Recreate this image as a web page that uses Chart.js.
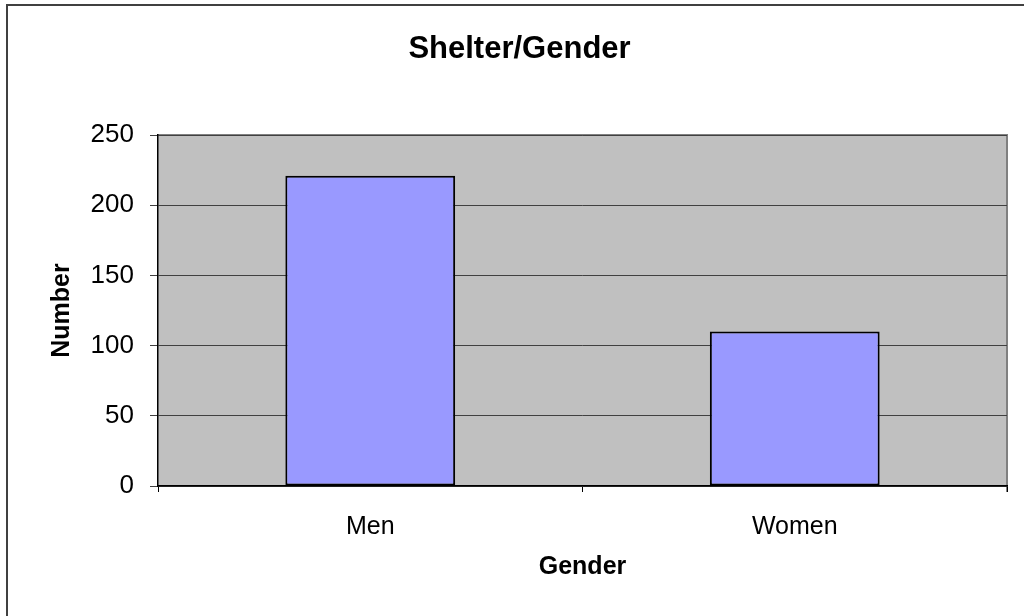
<!DOCTYPE html>
<html lang="en">
<head>
    <meta charset="UTF-8">
    <title>Shelter/Gender</title>
    <script src="https://cdn.jsdelivr.net/npm/chart.js"></script>
    <style>
        html, body { margin: 0; padding: 0; background: #fff; }
        canvas { display: block; }
    </style>
</head>
<body>
    <canvas id="shelterChart" width="1024" height="616"></canvas>

    <script>
        // data
        var categories = ["Men", "Women"];
        var counts = [221, 110];
        var yTicks = [0, 50, 100, 150, 200, 250];

        var font = "'Liberation Sans', Arial, sans-serif";

        // gray plot area + outer frame
        var frame = {
            id: 'frame',
            beforeDraw: function (chart) {
                var c = chart.ctx, a = chart.chartArea;
                c.save();
                c.fillStyle = '#fff';
                c.fillRect(0, 0, chart.width, chart.height);
                c.strokeStyle = '#404040';
                c.lineWidth = 2;
                c.beginPath();
                c.moveTo(7, chart.height);
                c.lineTo(7, 5);
                c.lineTo(chart.width, 5);
                c.stroke();
                c.fillStyle = '#c0c0c0';
                c.fillRect(a.left, a.top, a.right - a.left, a.bottom - a.top);
                c.strokeStyle = '#808080';
                c.lineWidth = 2;
                c.beginPath();
                c.moveTo(a.left, a.top);
                c.lineTo(a.right, a.top);
                c.lineTo(a.right, a.bottom + 6);
                c.stroke();
                c.restore();
            }
        };

        var ctx = document.getElementById('shelterChart').getContext('2d');
        var chart = new Chart(ctx, {
            type: 'bar',
            data: {
                labels: categories,
                datasets: [{
                    label: "Number",
                    data: counts,
                    backgroundColor: "#9999ff",
                    borderColor: "#000000",
                    borderWidth: 2,
                    borderSkipped: false,
                    barPercentage: 0.4,
                    categoryPercentage: 1.0
                }]
            },
            options: {
                responsive: false,
                animation: false,
                layout: { padding: { left: 32, right: 17, top: 0, bottom: 0 } },
                plugins: {
                    legend: { display: false },
                    tooltip: { enabled: false },
                    title: {
                        display: true,
                        text: "Shelter/Gender",
                        color: '#000',
                        font: { family: font, size: 31, weight: 'bold', lineHeight: 1.2 },
                        padding: { top: 31, bottom: 66.8 }
                    }
                },
                scales: {
                    x: {
                        afterFit: function (s) { s.height = 130; },
                        grid: {
                            offset: true,
                            drawOnChartArea: false,
                            drawTicks: true,
                            tickLength: 6,
                            color: '#000'
                        },
                        border: { color: '#000', width: 1.5 },
                        ticks: {
                            color: '#000',
                            padding: 20,
                            font: { family: font, size: 25 }
                        },
                        title: {
                            display: true,
                            text: "Gender",
                            color: '#000',
                            font: { family: font, size: 25, weight: 'bold', lineHeight: 1.2 },
                            padding: { top: 0, bottom: 34 }
                        }
                    },
                    y: {
                        min: 0,
                        max: 250,
                        afterFit: function (s) { s.width = 126; },
                        afterBuildTicks: function (s) {
                            s.ticks = yTicks.map(function (v) { return { value: v }; });
                        },
                        grid: {
                            color: '#404040',
                            lineWidth: 1,
                            tickLength: 8
                        },
                        border: { color: '#000', width: 1.5 },
                        ticks: {
                            color: '#000',
                            padding: 16,
                            font: { family: font, size: 26 }
                        },
                        title: {
                            display: true,
                            text: "Number",
                            color: '#000',
                            font: { family: font, size: 25, weight: 'bold', lineHeight: 1.2 },
                            padding: { top: 15.5, bottom: 0 }
                        }
                    }
                }
            },
            plugins: [frame]
        });
    </script>
</body>
</html>
